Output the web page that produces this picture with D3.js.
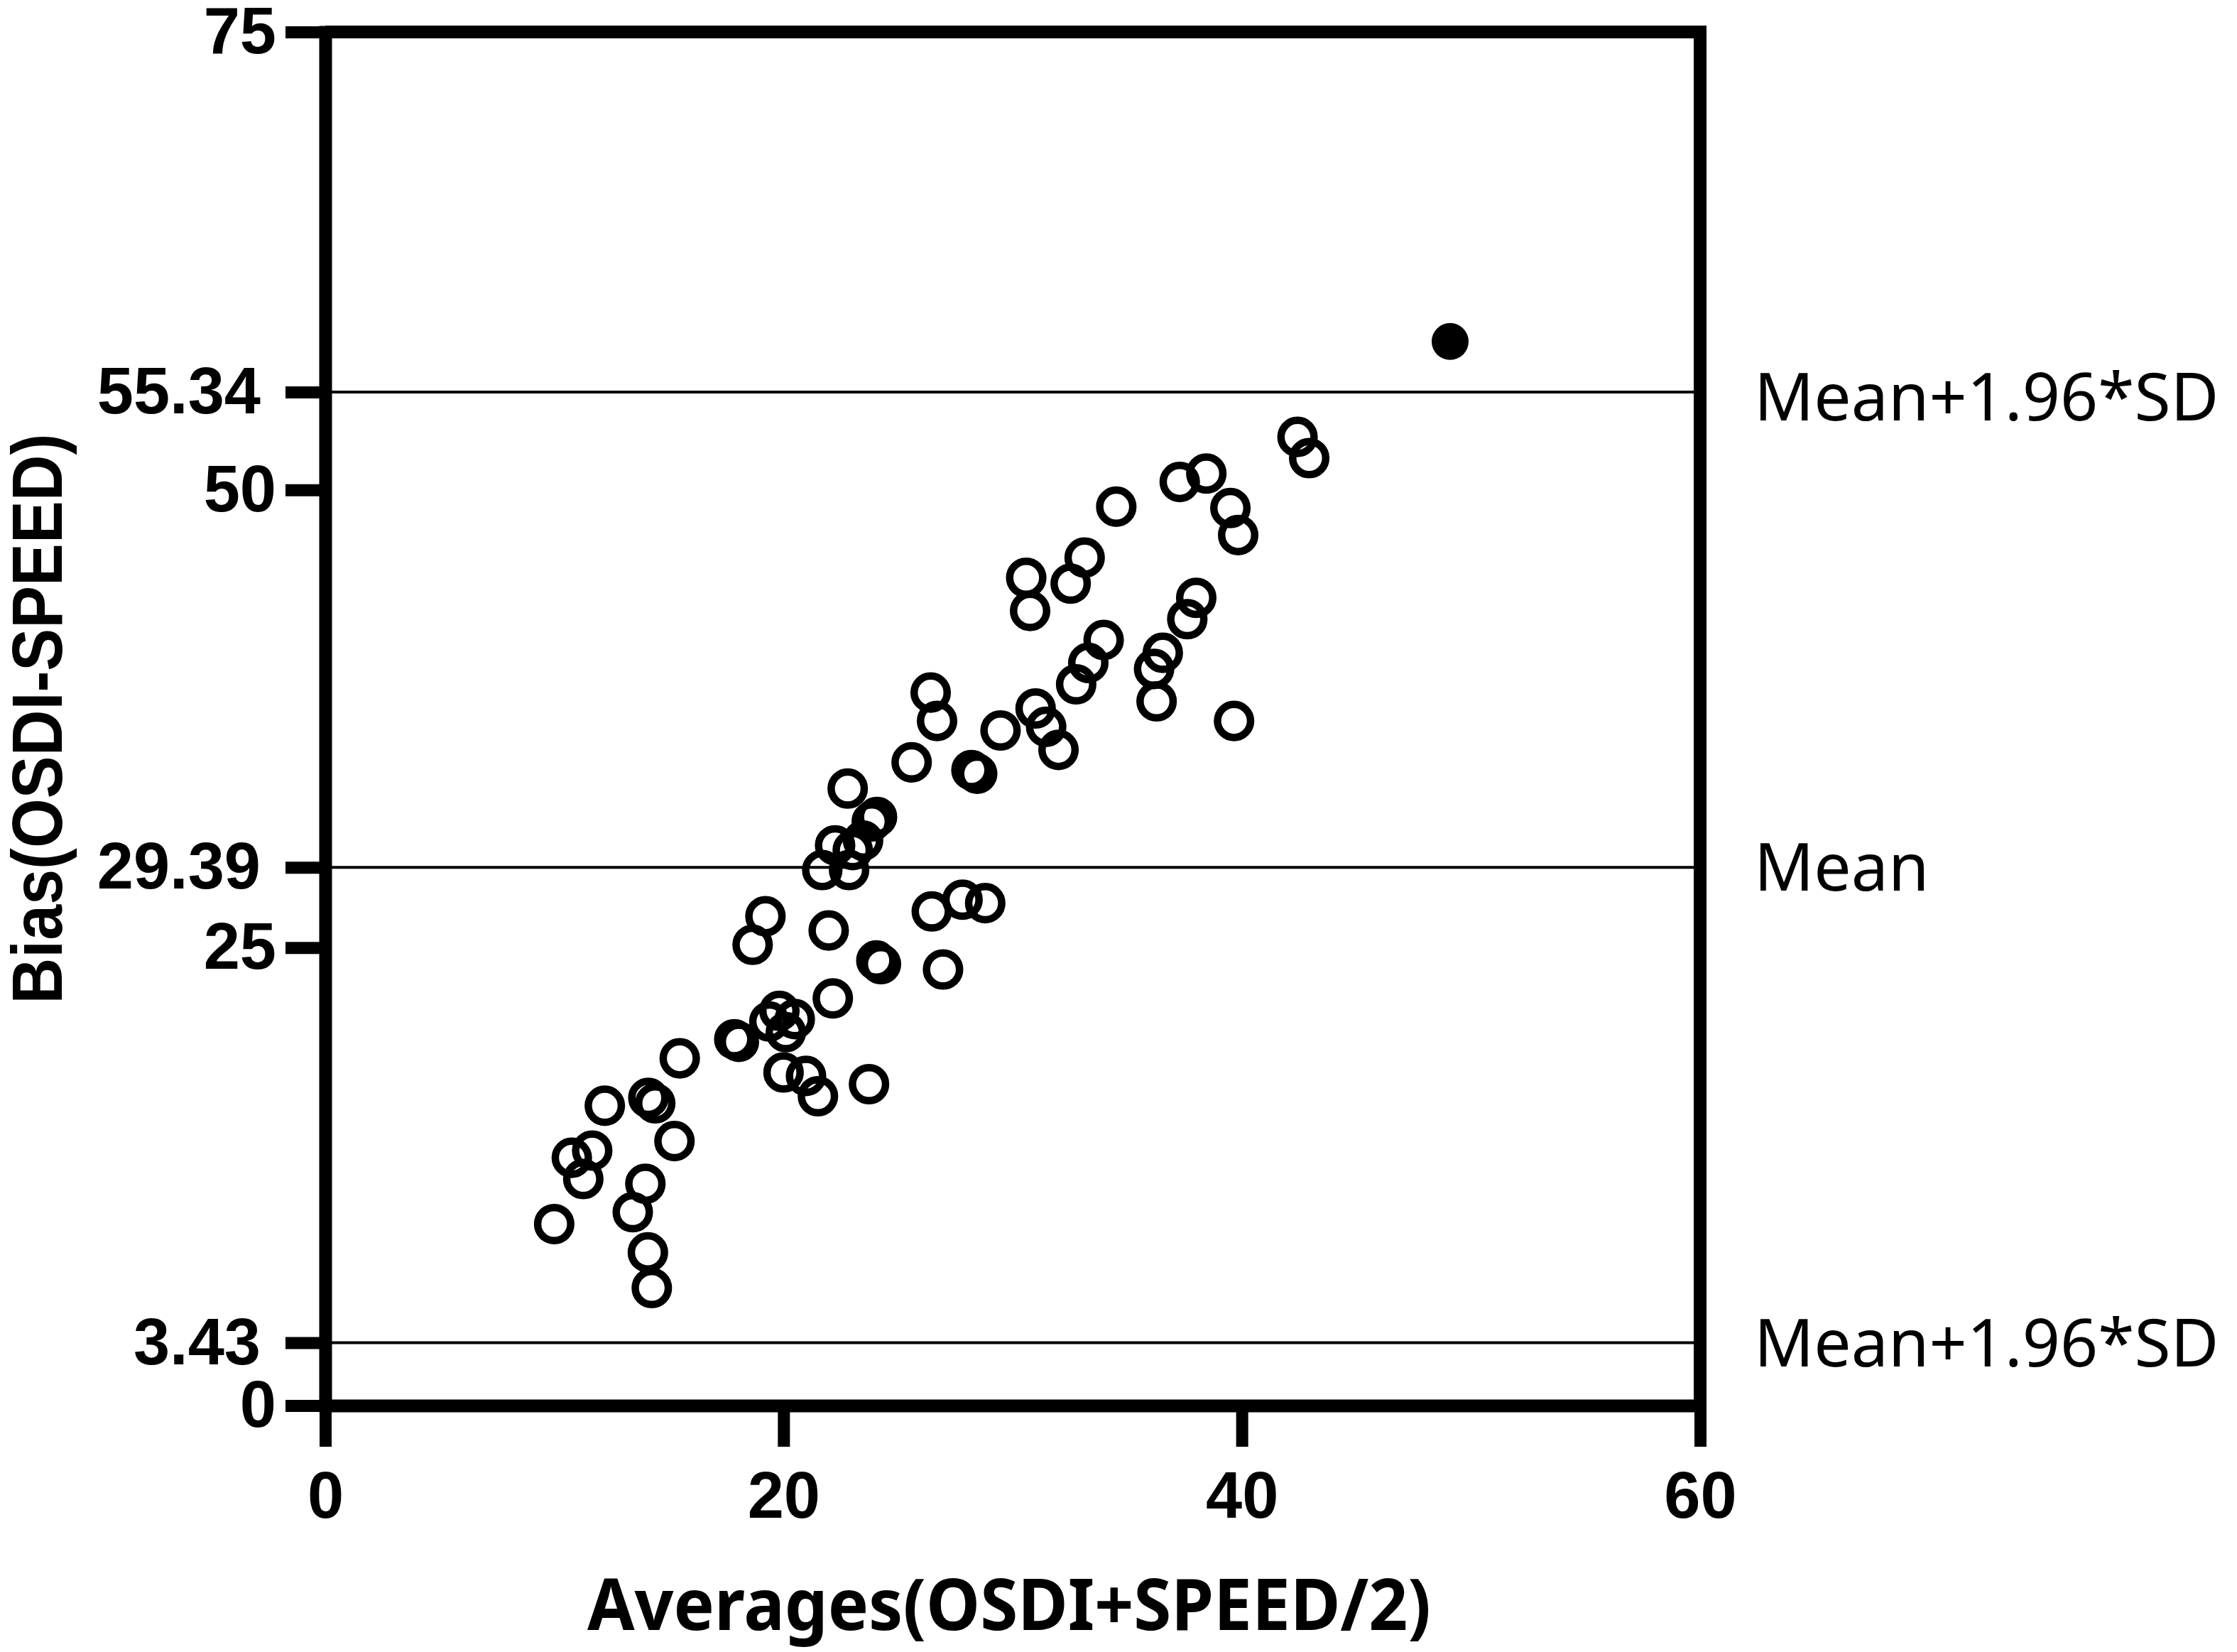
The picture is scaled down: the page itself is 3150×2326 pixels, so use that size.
<!DOCTYPE html>
<html lang="en">
<head>
<meta charset="UTF-8">
<title>Bland-Altman: OSDI vs SPEED</title>
<script src="https://d3js.org/d3.v7.min.js"></script>
<style>
    body { margin: 0; background: #fff; }
    svg { display: block; }
    .axis text { font-family: "Liberation Sans", Arial, sans-serif; font-weight: bold; font-size: 92px; fill: #000; }
    .axis .domain { stroke: #000; stroke-width: 18; }
    .axis .tick line { stroke: #000; stroke-width: 17; }
    .limit-label { font-family: "Noto Sans", "Open Sans", sans-serif; font-size: 93px; fill: #000; }
    .axis-title { font-family: "Noto Sans", "Open Sans", sans-serif; font-weight: bold; font-size: 100px; fill: #000; }
</style>
</head>
<body>
<div id="chart"></div>
<script>
    // averages (x) and differences (y)
    var avgValues = [42.43, 42.94, 34.52, 37.29, 38.45, 39.50, 39.84, 30.59, 30.76, 33.14,
                     32.53, 38.01, 37.62, 33.97, 33.30, 32.77, 36.55, 36.17, 36.28, 39.66,
                     31.00, 26.42, 26.70, 25.59, 28.20, 28.45, 29.47, 31.46, 32.00, 22.80,
                     24.08, 23.85, 23.47, 22.25, 23.02, 22.86, 21.69, 26.47, 27.81, 28.80,
                     19.21, 18.65, 21.97, 24.05, 24.25, 26.96, 22.15, 17.85, 18.05, 19.82,
                     20.49, 20.10, 19.38, 20.00, 20.98, 21.50, 23.73, 15.47, 12.20, 14.10,
                     14.40, 15.24, 10.76, 11.65, 11.26, 13.97, 13.42, 9.99, 14.08, 14.25];
    var biasValues = [52.89, 51.73, 49.08, 50.43, 50.89, 49.01, 47.53, 45.20, 43.39, 46.30,
                      44.88, 44.10, 42.94, 41.80, 40.55, 39.38, 41.10, 40.22, 38.45, 37.38,
                      38.06, 38.93, 37.38, 35.12, 34.70, 34.50, 36.86, 37.06, 35.80, 33.69,
                      32.14, 31.89, 30.85, 30.59, 30.33, 29.24, 29.24, 26.98, 27.62, 27.43,
                      26.72, 25.16, 25.94, 24.30, 24.10, 23.81, 22.23, 20.00, 19.86, 21.55,
                      21.10, 20.39, 20.97, 18.19, 18.00, 16.89, 17.55, 18.96, 16.37, 16.80,
                      16.50, 14.44, 13.53, 13.92, 12.37, 12.11, 10.56, 9.91, 8.36, 6.42];

    // the one filled point (outlier)
    var outlierAvg = [49.09];
    var outlierBias = [58.10];

    // mean and limits of agreement
    var limitValues = [55.34, 29.39, 3.43];
    var limitLabels = ["Mean+1.96*SD", "Mean", "Mean+1.96*SD"];

    var xTicks = [0, 20, 40, 60];
    var yTicks = [0, 3.43, 25, 29.39, 50, 55.34, 75];

    var margin = {top: 45, right: 756, bottom: 347, left: 458},
        width = 3150 - margin.left - margin.right,
        height = 2326 - margin.top - margin.bottom;

    var svg = d3.select("#chart")
        .append("svg")
        .attr("width", width + margin.left + margin.right)
        .attr("height", height + margin.top + margin.bottom)
        .append("g")
        .attr("transform", "translate(" + margin.left + "," + margin.top + ")");

    var x = d3.scaleLinear().domain([0, 60]).range([0, width]);
    var y = d3.scaleLinear().domain([0, 75]).range([height, 0]);

    // mean / limit lines
    svg.append("g")
        .selectAll("line")
        .data(limitValues)
        .enter()
        .append("line")
        .attr("x1", 0)
        .attr("x2", width)
        .attr("y1", function(d) { return y(d); })
        .attr("y2", function(d) { return y(d); })
        .attr("stroke", "#000")
        .attr("stroke-width", 4);

    svg.append("g")
        .selectAll("text")
        .data(limitValues)
        .enter()
        .append("text")
        .attr("class", "limit-label")
        .attr("x", width + 76)
        .attr("y", function(d, i) { return y(d) + (i === 0 ? 40 : 33); })
        .text(function(d, i) { return limitLabels[i]; });

    // top and right frame
    svg.append("line")
        .attr("x1", 0).attr("x2", width + 9)
        .attr("y1", y(75)).attr("y2", y(75))
        .attr("stroke", "#000").attr("stroke-width", 18);
    svg.append("line")
        .attr("x1", x(60)).attr("x2", x(60))
        .attr("y1", y(75) - 9).attr("y2", height)
        .attr("stroke", "#000").attr("stroke-width", 18);

    // axes
    var yAxis = svg.append("g")
        .attr("class", "axis")
        .call(d3.axisLeft(y)
            .tickValues(yTicks)
            .tickSize(56)
            .tickSizeOuter(0)
            .tickPadding(13)
            .tickFormat(function(d) { return String(d); }));
    yAxis.selectAll(".tick text")
        .attr("dx", function(d) { return Number.isInteger(d) ? 0 : -22; });
    yAxis.select(".domain").attr("stroke-linecap", "square");

    svg.append("g")
        .attr("class", "axis")
        .attr("transform", "translate(0," + height + ")")
        .call(d3.axisBottom(x)
            .tickValues(xTicks)
            .tickSize(58)
            .tickSizeOuter(0)
            .tickPadding(35));

    // points
    svg.append("g")
        .selectAll("circle")
        .data(avgValues)
        .enter()
        .append("circle")
        .attr("cx", function(d) { return x(d); })
        .attr("cy", function(d, i) { return y(biasValues[i]); })
        .attr("r", 23.3)
        .attr("fill", "none")
        .attr("stroke", "#000")
        .attr("stroke-width", 10.5);

    svg.append("g")
        .selectAll("circle")
        .data(outlierAvg)
        .enter()
        .append("circle")
        .attr("cx", function(d) { return x(d); })
        .attr("cy", function(d, i) { return y(outlierBias[i]); })
        .attr("r", 26)
        .attr("fill", "#000");

    // axis titles
    svg.append("text")
        .attr("class", "axis-title")
        .attr("text-anchor", "middle")
        .attr("x", 963)
        .attr("y", height + 316)
        .attr("textLength", 1188)
        .attr("lengthAdjust", "spacingAndGlyphs")
        .text("Averages(OSDI+SPEED/2)");

    svg.append("text")
        .attr("class", "axis-title")
        .attr("text-anchor", "middle")
        .attr("transform", "translate(-371," + (height / 2) + ") rotate(-90)")
        .attr("textLength", 803)
        .attr("lengthAdjust", "spacingAndGlyphs")
        .style("font-family", "'Liberation Sans', Arial, sans-serif")
        .text("Bias(OSDI-SPEED)");
</script>
</body>
</html>
